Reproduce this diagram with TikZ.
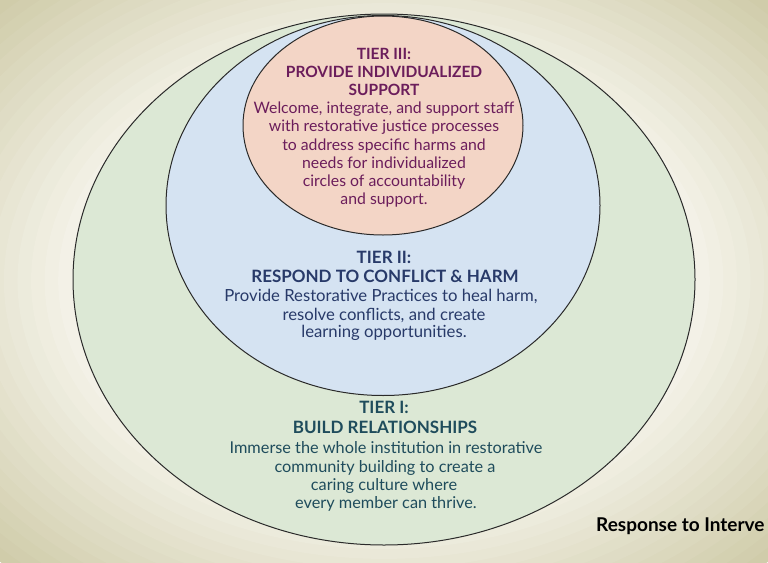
\documentclass[tikz,border=0pt]{standalone}
\usepackage{fontspec}
\setmainfont{Lato}
\definecolor{bgin}{HTML}{FAF9F3}
\definecolor{bgout}{HTML}{D0CCAA}
\definecolor{greenfill}{HTML}{DCE8D5}
\definecolor{bluefill}{HTML}{D5E3F2}
\definecolor{pinkfill}{HTML}{F3D5C6}
\definecolor{purpletext}{HTML}{6B1D5B}
\definecolor{navytext}{HTML}{283A69}
\definecolor{tealtext}{HTML}{1F4C5C}
\definecolor{edge}{HTML}{2A2A2A}
\tikzset{
  tierring/.style={draw=edge, line width=1pt},
  line/.style={anchor=base, inner sep=0pt},
  t3head/.style={line, text=purpletext, font=\bfseries\fontsize{15.5}{18}\selectfont},
  t3body/.style={line, text=purpletext, font=\fontsize{15.8}{18}\selectfont},
  t2head/.style={line, text=navytext, font=\bfseries\fontsize{17}{19}\selectfont},
  t2body/.style={line, text=navytext, font=\fontsize{16.7}{19}\selectfont},
  t1head/.style={line, text=tealtext, font=\bfseries\fontsize{17}{19}\selectfont},
  t1body/.style={line, text=tealtext, font=\fontsize{16.3}{19}\selectfont},
}
\begin{document}
\begin{tikzpicture}[x=1pt,y=-1pt]
\useasboundingbox (0,0) rectangle (768,562);
\begin{scope}
\clip (0,0) rectangle (768,562);
\fill[bgout] (0,0) rectangle (768,562);
\foreach \i in {0,...,26}{%
  \pgfmathsetmacro\f{1-\i/40}%
  \pgfmathsetmacro\p{max(0,min(100,100*(\f-0.52)/0.48))}%
  \fill[bgout!\p!bgin] (384,281) ellipse [x radius=543*\f, y radius=397*\f];
}
\end{scope}
\draw[tierring, fill=greenfill] (384,279.5) ellipse [x radius=311, y radius=265.5];
\draw[tierring, fill=bluefill] (383,205.5) ellipse [x radius=217, y radius=190];
\draw[tierring, fill=pinkfill] (383,125.5) ellipse [x radius=140, y radius=109.5];
% Tier III
\node[t3head] (t3a) at (384,59) {TIER III:};
\node[t3head] (t3b) at (384,77) {PROVIDE INDIVIDUALIZED};
\node[t3head] (t3c) at (384,95) {SUPPORT};
\node[t3body] (t3d) at (384,113) {Welcome, integrate, and support staff};
\node[t3body] (t3e) at (384,131.5) {with restorative justice processes};
\node[t3body] (t3f) at (384,150) {to address specific harms and};
\node[t3body] (t3g) at (384,168) {needs for individualized};
\node[t3body] (t3h) at (384,186) {circles of accountability};
\node[t3body] (t3i) at (384,204) {and support.};
% Tier II
\node[t2head] (t2a) at (384,263) {TIER II:};
\node[t2head] (t2b) at (385,282.5) {RESPOND TO CONFLICT \& HARM};
\node[t2body] (t2c) at (381,301.5) {Provide Restorative Practices to heal harm,};
\node[t2body] (t2d) at (384,320) {resolve conflicts, and create};
\node[t2body] (t2e) at (384,337) {learning opportunities.};
% Tier I
\node[t1head] (t1a) at (384,413) {TIER I:};
\node[t1head] (t1b) at (385,433) {BUILD RELATIONSHIPS};
\node[t1body] (t1c) at (386,453) {Immerse the whole institution in restorative};
\node[t1body] (t1d) at (385,472) {community building to create a};
\node[t1body] (t1e) at (384,490) {caring culture where};
\node[t1body] (t1f) at (386,508) {every member can thrive.};
\node[anchor=base west, inner sep=0pt, font=\bfseries\fontsize{19}{22}\selectfont, text=black] (rti) at (596,531) {Response to Interve};
\end{tikzpicture}
\end{document}
